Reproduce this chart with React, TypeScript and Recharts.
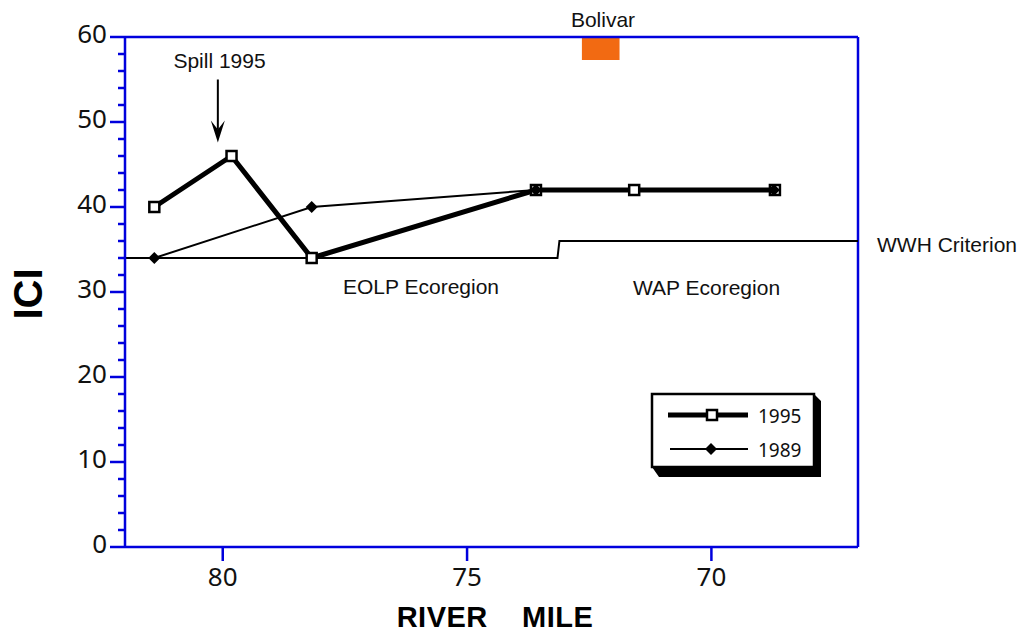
import {
  ComposedChart,
  Line,
  XAxis,
  YAxis,
  ReferenceLine,
  ReferenceArea,
  ReferenceDot,
  Customized,
} from "recharts";

// river mile positions of the sampling sites
const miles1995 = [81.4, 79.82, 78.18, 73.59, 71.58, 68.7];
const ici1995 = [40, 46, 34, 42, 42, 42];
const miles1989 = [81.4, 78.18, 73.59, 68.72];
const ici1989 = [34, 40, 42, 42];

// WWH criterion step (EOLP -> WAP ecoregion)
const wwhMiles = [82, 73.15, 73.11, 67];
const wwhValues = [34, 34, 36, 36];

const xTicks = [80, 75, 70];
const yTicks = [0, 2, 4, 6, 8, 10, 12, 14, 16, 18, 20, 22, 24, 26, 28, 30, 32, 34, 36, 38, 40, 42, 44, 46, 48, 50, 52, 54, 56, 58, 60];

// Bolivar bar and spill arrow, in data units
const bolivar = { x1: 72.65, x2: 71.88, y1: 57.3, y2: 60 };
const spill = { mile: 80.1, top: 55, tip: 47.6 };

const data1995 = miles1995.map((m, i) => ({ mile: m, ici: ici1995[i] }));
const data1989 = miles1989.map((m, i) => ({ mile: m, ici: ici1989[i] }));
const wwhData = wwhMiles.map((m, i) => ({ mile: m, ici: wwhValues[i] }));

const BLUE = "#0000dd";
const TICK_FONT = "'Noto Sans', sans-serif";
const ARIAL = "'Liberation Sans', Arial, sans-serif";

function SquareDot(props: any) {
  const { cx, cy } = props;
  if (cx == null || cy == null) return null;
  return <rect x={cx - 5} y={cy - 5} width={10} height={10} fill="#fff" stroke="#000" strokeWidth={2.5} />;
}

function DiamondDot(props: any) {
  const { cx, cy } = props;
  if (cx == null || cy == null) return null;
  return <polygon points={`${cx},${cy - 6} ${cx + 6},${cy} ${cx},${cy + 6} ${cx - 6},${cy}`} fill="#000" />;
}

function YTick(props: any) {
  const { x, y, payload } = props;
  const major = payload.value % 10 === 0;
  return (
    <g>
      <line x1={x - (major ? 15 : 7)} x2={x} y1={y} y2={y} stroke={BLUE} strokeWidth={2.5} />
      {major && (
        <text x={x - 18} y={y - 3} dy="0.35em" textAnchor="end" fontFamily={TICK_FONT} fontSize={26} fill="#111">
          {payload.value}
        </text>
      )}
    </g>
  );
}

function ArrowHead(props: any) {
  const { cx, cy } = props;
  if (cx == null || cy == null) return null;
  return (
    <path
      d={`M${cx},${cy} L${cx - 7},${cy - 22} L${cx},${cy - 13} L${cx + 7},${cy - 22} Z`}
      fill="#000"
    />
  );
}

function LegendBox() {
  return (
    <g transform="translate(648, 390)">
      <polygon points="166,4 173,11 173,87 11,87 4,77 166,77" fill="#000" />
      <rect x={4} y={4} width={162} height={73} fill="#fff" stroke="#000" strokeWidth={2.5} />
      <line x1={20} x2={100} y1={25} y2={25} stroke="#000" strokeWidth={5} />
      <rect x={59} y={20} width={10} height={10} fill="#fff" stroke="#000" strokeWidth={2.5} />
      <text x={110} y={33} fontFamily={TICK_FONT} fontSize={19} fill="#111">1995</text>
      <line x1={22} x2={100} y1={59} y2={59} stroke="#000" strokeWidth={2} />
      <polygon points="63,53 69,59 63,65 57,59" fill="#000" />
      <text x={110} y={67} fontFamily={TICK_FONT} fontSize={19} fill="#111">1989</text>
    </g>
  );
}

function Annotations() {
  return (
    <g fill="#111" fontFamily={ARIAL} fontSize={21}>
      <text x={219.5} y={68} textAnchor="middle">Spill 1995</text>
      <text x={603} y={27} textAnchor="middle">Bolivar</text>
      <text x={343} y={294}>EOLP Ecoregion</text>
      <text x={633} y={295}>WAP Ecoregion</text>
      <text x={877} y={252}>WWH Criterion</text>
      <text x={42} y={294} textAnchor="middle" fontSize={40} fontWeight="bold" fill="#000" transform="rotate(-90, 42, 294)">
        ICI
      </text>
      <text x={495} y={627} textAnchor="middle" fontSize={29} fontWeight="bold" fill="#000" style={{ whiteSpace: "pre" }} letterSpacing={0.5}>
        {"RIVER    MILE"}
      </text>
      <LegendBox />
    </g>
  );
}

export default function App() {
  return (
    <div style={{ position: "absolute", left: 0, top: 0, width: 1023, height: 638, background: "#fff" }}>
      <ComposedChart width={1023} height={638} margin={{ top: 37, right: 165, bottom: 51, left: 65 }}>
        <XAxis
          type="number"
          dataKey="mile"
          domain={[67, 82]}
          reversed
          ticks={xTicks}
          height={40}
          axisLine={{ stroke: BLUE, strokeWidth: 2.5 }}
          tickLine={{ stroke: BLUE, strokeWidth: 2.5 }}
          tickSize={14}
          tickMargin={7}
          tick={{ fontFamily: TICK_FONT, fontSize: 26, fill: "#111" }}
          allowDataOverflow
        />
        <YAxis
          type="number"
          domain={[0, 60]}
          ticks={yTicks}
          interval={0}
          width={60}
          axisLine={{ stroke: BLUE, strokeWidth: 2.5 }}
          tickLine={false}
          tickSize={0}
          tickMargin={0}
          tick={<YTick />}
          allowDataOverflow
        />
        <ReferenceLine y={60} stroke={BLUE} strokeWidth={2.5} />
        <ReferenceLine x={67} stroke={BLUE} strokeWidth={2.5} />
        <ReferenceArea
          x1={bolivar.x1}
          x2={bolivar.x2}
          y1={bolivar.y1}
          y2={bolivar.y2}
          fill="#f26a12"
          fillOpacity={1}
          stroke="none"
        />
        <ReferenceLine
          segment={[
            { x: spill.mile, y: spill.top },
            { x: spill.mile, y: spill.tip + 1.5 },
          ]}
          stroke="#000"
          strokeWidth={2}
        />
        <ReferenceDot x={spill.mile} y={spill.tip} r={0} shape={<ArrowHead />} />
        <Line
          data={wwhData}
          dataKey="ici"
          type="linear"
          stroke="#000"
          strokeWidth={2}
          dot={false}
          activeDot={false}
          isAnimationActive={false}
        />
        <Line
          data={data1995}
          dataKey="ici"
          name="1995"
          type="linear"
          stroke="#000"
          strokeWidth={5}
          dot={<SquareDot />}
          activeDot={false}
          isAnimationActive={false}
        />
        <Line
          data={data1989}
          dataKey="ici"
          name="1989"
          type="linear"
          stroke="#000"
          strokeWidth={2}
          dot={<DiamondDot />}
          activeDot={false}
          isAnimationActive={false}
        />
        <Customized component={<Annotations />} />
      </ComposedChart>
    </div>
  );
}
